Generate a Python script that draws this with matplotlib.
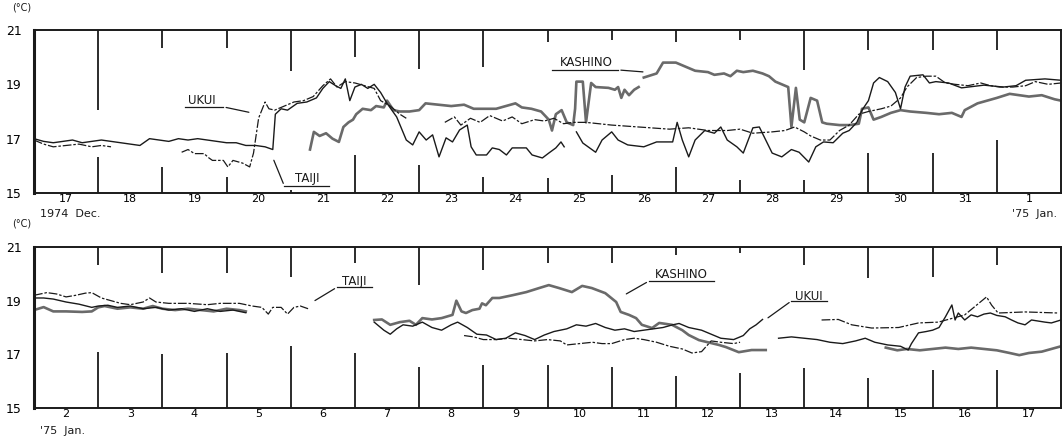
import numpy as np
import matplotlib
matplotlib.use("Agg")
import matplotlib.pyplot as plt

plt.rcParams['font.family'] = ['DejaVu Sans']

# ---- data: (day offset, degC); None = gap in record ----
# top panel: day 0 = 1974 Dec 17 00h
top_ukui = [(0.0, 17.0), (0.15, 16.9), (0.3, 16.85), (0.45, 16.9), (0.6, 16.95), (0.75, 16.85), (0.9, 16.9),
            (1.05, 16.95), (1.2, 16.9), (1.35, 16.85), (1.5, 16.8), (1.65, 16.75), (1.8, 17.0), (1.95, 16.95),
            (2.1, 16.9), (2.25, 17.0), (2.4, 16.95), (2.55, 17.0), (2.7, 16.95), (2.85, 16.9), (3.0, 16.85),
            (3.15, 16.85), (3.3, 16.75), (3.45, 16.75), (3.6, 16.7), (3.72, 16.6), (3.76, 17.9), (3.85, 18.1),
            (3.95, 18.05), (4.1, 18.3), (4.25, 18.35), (4.4, 18.5), (4.5, 18.85), (4.6, 19.1), (4.7, 18.95),
            (4.78, 18.85), (4.85, 19.2), (4.92, 18.4), (5.0, 18.9), (5.1, 19.0), (5.2, 18.85), (5.3, 19.0),
            (5.4, 18.7), (5.5, 18.3), (5.65, 17.8), (5.8, 16.95), (5.9, 16.77), (6.0, 17.25), (6.11, 16.95),
            (6.21, 17.14), (6.31, 16.33), (6.42, 17.03), (6.52, 16.88), (6.63, 17.32), (6.75, 17.5), (6.81, 16.7),
            (6.89, 16.4), (7.05, 16.4), (7.14, 16.66), (7.25, 16.6), (7.36, 16.4), (7.45, 16.66), (7.67, 16.66),
            (7.76, 16.4), (7.92, 16.29), (8.02, 16.47), (8.13, 16.66), (8.21, 16.88), (8.26, 16.7), None,
            (8.45, 17.25), (8.55, 16.84), (8.75, 16.5), (8.85, 16.95), (9.0, 17.25), (9.1, 16.95), (9.25, 16.77),
            (9.5, 16.7), (9.7, 16.88), (9.95, 16.88), (10.02, 17.6), (10.1, 16.95), (10.2, 16.33), (10.3, 16.95),
            (10.45, 17.3), (10.6, 17.2), (10.7, 17.43), (10.8, 16.95), (10.95, 16.7), (11.05, 16.47), (11.2, 17.4),
            (11.3, 17.43), (11.4, 16.95), (11.5, 16.47), (11.65, 16.33), (11.8, 16.6), (11.92, 16.5),
            (12.07, 16.14), (12.18, 16.7), (12.3, 16.88), (12.45, 16.85), (12.6, 17.2), (12.7, 17.3),
            (12.82, 17.6), (12.9, 18.05), (13.0, 18.4), (13.08, 19.05), (13.17, 19.25), (13.3, 19.1),
            (13.42, 18.7), (13.5, 18.1), (13.57, 18.9), (13.65, 19.3), (13.85, 19.35), (13.95, 19.05),
            (14.05, 19.1), (14.25, 19.05), (14.45, 18.87), (14.8, 18.97), (15.1, 18.9), (15.3, 18.95),
            (15.45, 19.15), (15.75, 19.2), (16.0, 19.15)]
top_kashino = [(4.3, 16.6), (4.36, 17.25), (4.45, 17.1), (4.55, 17.2), (4.65, 17.0), (4.75, 16.88), (4.82, 17.43),
               (4.9, 17.6), (4.97, 17.7), (5.02, 17.9), (5.12, 18.1), (5.25, 18.05), (5.33, 18.2), (5.45, 18.15),
               (5.5, 18.4), (5.6, 18.05), (5.7, 18.0), (5.85, 18.0), (6.0, 18.05), (6.1, 18.3), (6.3, 18.25),
               (6.5, 18.2), (6.7, 18.25), (6.85, 18.1), (7.0, 18.1), (7.2, 18.1), (7.35, 18.2), (7.5, 18.3),
               (7.6, 18.15), (7.75, 18.1), (7.9, 18.0), (8.02, 17.7), (8.07, 17.3), (8.13, 17.9), (8.22, 18.05),
               (8.3, 17.6), (8.4, 17.5), (8.43, 18.1), (8.45, 19.1), (8.55, 19.1), (8.6, 17.6), (8.68, 19.05),
               (8.75, 18.9), (8.95, 18.87), (9.05, 18.8), (9.1, 18.9), (9.15, 18.5), (9.2, 18.8), (9.27, 18.6),
               (9.35, 18.8), (9.42, 18.9), None, (9.5, 19.25), (9.7, 19.4), (9.8, 19.8), (10.0, 19.8), (10.2, 19.6),
               (10.3, 19.5), (10.5, 19.45), (10.6, 19.35), (10.75, 19.4), (10.85, 19.3), (10.95, 19.5),
               (11.05, 19.45), (11.2, 19.5), (11.35, 19.4), (11.45, 19.3), (11.55, 19.1), (11.65, 19.0),
               (11.75, 18.9), (11.8, 17.43), (11.87, 18.87), (11.93, 17.7), (12.0, 17.6), (12.1, 18.5),
               (12.2, 18.4), (12.28, 17.6), (12.35, 17.55), (12.55, 17.5), (12.7, 17.5), (12.85, 17.55),
               (12.9, 18.1), (13.0, 18.15), (13.08, 17.7), (13.2, 17.8), (13.35, 17.95), (13.5, 18.05),
               (13.65, 18.0), (13.9, 17.95), (14.1, 17.9), (14.3, 17.95), (14.45, 17.8), (14.5, 18.05),
               (14.7, 18.3), (14.85, 18.4), (15.0, 18.5), (15.2, 18.65), (15.35, 18.6), (15.5, 18.55),
               (15.7, 18.6), (15.9, 18.45), (16.0, 18.4)]
top_taiji = [(0.0, 16.95), (0.15, 16.8), (0.3, 16.7), (0.5, 16.75), (0.7, 16.8), (0.9, 16.7), (1.05, 16.75),
             (1.2, 16.7), None, (2.3, 16.5), (2.4, 16.6), (2.5, 16.45), (2.65, 16.45), (2.72, 16.3), (2.78, 16.2),
             (2.95, 16.2), (3.02, 15.96), (3.1, 16.2), (3.25, 16.1), (3.36, 15.96), (3.42, 16.47), (3.5, 17.76),
             (3.6, 18.35), (3.66, 18.1), (3.75, 18.05), (3.9, 18.2), (4.05, 18.35), (4.2, 18.4), (4.35, 18.55),
             (4.5, 18.95), (4.62, 19.2), (4.72, 18.9), (4.85, 19.1), (5.0, 19.05), (5.15, 18.95), (5.3, 18.85),
             (5.4, 18.4), (5.55, 18.2), (5.7, 17.9), (5.8, 17.75), None, (6.4, 17.6), (6.55, 17.8), (6.65, 17.5),
             (6.8, 17.75), (6.95, 17.6), (7.1, 17.85), (7.3, 17.65), (7.45, 17.8), (7.6, 17.55), (7.8, 17.7),
             (7.95, 17.65), (8.1, 17.75), (8.25, 17.55), (8.4, 17.6), (8.6, 17.6), (8.8, 17.55), (9.0, 17.5),
             (9.3, 17.45), (9.6, 17.4), (9.9, 17.35), (10.2, 17.4), (10.5, 17.3), (10.8, 17.3), (11.0, 17.35),
             (11.2, 17.2), (11.5, 17.25), (11.7, 17.3), (11.85, 17.43), (12.0, 17.25), (12.1, 17.1),
             (12.25, 16.95), (12.4, 16.95), (12.55, 17.3), (12.7, 17.5), (12.85, 17.9), (13.0, 18.0),
             (13.2, 18.1), (13.35, 18.2), (13.5, 18.5), (13.6, 18.9), (13.75, 19.25), (13.9, 19.3),
             (14.05, 19.3), (14.2, 19.05), (14.35, 19.0), (14.55, 18.95), (14.75, 19.05), (14.9, 18.95),
             (15.05, 18.9), (15.25, 18.9), (15.45, 18.95), (15.6, 19.1), (15.8, 19.0), (16.0, 19.05)]

# bottom panel: day 0 = 1975 Jan 2 00h
bot_ukui = [(0.0, 19.1), (0.15, 19.1), (0.3, 19.06), (0.5, 18.95), (0.7, 18.87), (0.9, 18.75), (1.0, 18.8),
            (1.15, 18.83), (1.3, 18.75), (1.5, 18.8), (1.7, 18.7), (1.9, 18.75), (2.1, 18.65), (2.3, 18.7),
            (2.5, 18.6), (2.7, 18.7), (2.9, 18.6), (3.1, 18.65), (3.3, 18.55), None, (5.3, 18.2), (5.45, 17.9),
            (5.55, 17.75), (5.65, 17.95), (5.75, 18.1), (5.9, 18.05), (6.05, 18.2), (6.2, 18.0), (6.35, 17.9),
            (6.5, 18.1), (6.6, 18.2), (6.75, 18.0), (6.9, 17.75), (7.05, 17.72), (7.2, 17.55), (7.35, 17.6),
            (7.5, 17.8), (7.65, 17.7), (7.8, 17.55), (7.95, 17.72), (8.1, 17.85), (8.3, 17.95), (8.45, 18.1),
            (8.6, 18.05), (8.75, 18.15), (8.9, 18.0), (9.05, 17.9), (9.2, 17.95), (9.35, 17.85), (9.5, 17.9),
            (9.65, 17.95), (9.8, 18.0), (9.95, 18.1), (10.05, 18.15), (10.2, 18.0), (10.4, 17.9), (10.55, 17.75),
            (10.7, 17.6), (10.9, 17.55), (11.05, 17.7), (11.15, 17.95), (11.25, 18.1), (11.35, 18.3), None,
            (11.6, 17.6), (11.8, 17.65), (12.0, 17.6), (12.2, 17.55), (12.4, 17.45), (12.6, 17.4), (12.8, 17.5),
            (12.95, 17.6), (13.1, 17.45), (13.3, 17.35), (13.5, 17.3), (13.62, 17.16), (13.67, 17.4),
            (13.78, 17.8), (13.9, 17.85), (14.0, 17.9), (14.1, 18.0), (14.2, 18.4), (14.3, 18.84), (14.35, 18.28),
            (14.4, 18.54), (14.5, 18.28), (14.6, 18.47), (14.7, 18.4), (14.8, 18.5), (14.9, 18.54),
            (15.0, 18.45), (15.13, 18.4), (15.23, 18.28), (15.33, 18.17), (15.44, 18.1), (15.54, 18.28),
            (15.75, 18.2), (15.85, 18.17), (16.0, 18.28)]
bot_kashino = [(0.0, 18.65), (0.15, 18.76), (0.3, 18.6), (0.5, 18.6), (0.75, 18.58), (0.9, 18.6), (1.0, 18.75),
               (1.1, 18.8), (1.3, 18.7), (1.5, 18.75), (1.7, 18.7), (1.85, 18.8), (2.0, 18.7), (2.2, 18.65),
               (2.4, 18.7), (2.6, 18.65), (2.8, 18.6), (3.0, 18.7), (3.2, 18.65), (3.3, 18.6), None,
               (5.3, 18.28), (5.42, 18.3), (5.55, 18.1), (5.7, 18.2), (5.85, 18.25), (5.95, 18.1), (6.05, 18.35),
               (6.2, 18.3), (6.35, 18.35), (6.52, 18.47), (6.58, 19.0), (6.66, 18.6), (6.73, 18.54),
               (6.83, 18.65), (6.94, 18.7), (6.98, 18.9), (7.04, 18.83), (7.14, 19.1), (7.25, 19.1), (7.45, 19.2),
               (7.67, 19.32), (7.87, 19.47), (8.02, 19.58), (8.18, 19.47), (8.38, 19.32), (8.54, 19.55),
               (8.69, 19.47), (8.9, 19.28), (9.07, 18.95), (9.14, 18.58), (9.27, 18.47), (9.38, 18.35),
               (9.47, 18.1), (9.63, 17.98), (9.74, 18.17), (9.94, 18.1), (10.1, 17.9), (10.2, 17.72),
               (10.36, 17.53), (10.67, 17.35), (10.78, 17.27), (10.98, 17.08), (11.18, 17.16), (11.4, 17.16),
               None, (13.27, 17.25), (13.45, 17.15), (13.6, 17.2), (13.8, 17.15), (14.0, 17.2), (14.2, 17.25),
               (14.4, 17.2), (14.6, 17.25), (14.8, 17.2), (15.0, 17.15), (15.2, 17.05), (15.35, 16.97),
               (15.5, 17.05), (15.7, 17.1), (15.85, 17.2), (16.0, 17.3)]
bot_taiji = [(0.0, 19.2), (0.2, 19.3), (0.35, 19.25), (0.5, 19.14), (0.65, 19.2), (0.8, 19.28), (0.9, 19.3),
             (1.05, 19.1), (1.2, 19.0), (1.35, 18.9), (1.5, 18.85), (1.7, 18.95), (1.8, 19.1), (1.9, 18.95),
             (2.1, 18.9), (2.4, 18.9), (2.7, 18.85), (2.9, 18.9), (3.2, 18.9), (3.4, 18.8), (3.55, 18.75),
             (3.65, 18.5), (3.72, 18.75), (3.85, 18.75), (3.95, 18.5), (4.05, 18.75), (4.15, 18.8),
             (4.27, 18.7), None, (6.7, 17.7), (6.85, 17.65), (7.0, 17.55), (7.2, 17.55), (7.4, 17.6),
             (7.6, 17.55), (7.8, 17.5), (8.0, 17.55), (8.2, 17.5), (8.3, 17.35), (8.5, 17.4), (8.7, 17.45),
             (8.85, 17.4), (9.0, 17.4), (9.2, 17.55), (9.35, 17.6), (9.5, 17.55), (9.7, 17.45), (9.9, 17.3),
             (10.1, 17.2), (10.25, 17.05), (10.4, 17.1), (10.55, 17.5), (10.7, 17.45), (10.9, 17.4),
             (11.0, 17.45), None, (12.27, 18.28), (12.53, 18.3), (12.74, 18.1), (13.05, 17.98), (13.47, 18.0),
             (13.78, 18.17), (14.09, 18.2), (14.5, 18.47), (14.84, 19.14), (14.92, 18.83), (15.02, 18.54),
             (15.44, 18.58), (15.96, 18.54)]

top_days = ['17', '18', '19', '20', '21', '22', '23', '24', '25', '26', '27', '28', '29', '30', '31', '1']
bot_days = ['2', '3', '4', '5', '6', '7', '8', '9', '10', '11', '12', '13', '14', '15', '16', '17']
yticks = [15, 17, 19, 21]

# hand-drawn day separators: where the upper stub ends / lower stub starts (degC)
top_stub_hi = [18.06, 20.34, 20.34, 19.5, 20.0, 19.56, 19.64, 20.56, 20.63, 20.56, 20.63, 19.53, 20.26, 20.26, 20.26]
top_stub_lo = [16.33, 15.96, 15.59, 15.1, 16.4, 16.03, 15.59, 15.55, 15.66, 15.96, 15.48, 15.48, 16.47, 16.47, 16.95]
bot_stub_hi = [20.33, 20.03, 20.03, 19.88, 20.4, 19.58, 20.14, 20.4, 20.4, 20.7, 20.78, 20.33, 19.84, 19.88, 20.33]
bot_stub_lo = [17.08, 17.0, 17.04, 17.3, 17.04, 16.52, 16.6, 16.6, 16.52, 16.2, 16.3, 16.48, 16.1, 16.4, 16.4]


def unpack(pairs):
    d = np.array([p[0] if p else np.nan for p in pairs])
    t = np.array([p[1] if p else np.nan for p in pairs])
    return d, t


fig = plt.figure(figsize=(10.62, 4.37), dpi=100)
ax1 = fig.add_axes([34 / 1062, 1 - 193 / 437, 1027 / 1062, 163 / 437])
ax2 = fig.add_axes([34 / 1062, 1 - 408 / 437, 1027 / 1062, 161 / 437])

ink = '#1a1a1a'
panels = [(ax1, top_ukui, top_kashino, top_taiji, top_days, top_stub_hi, top_stub_lo),
          (ax2, bot_ukui, bot_kashino, bot_taiji, bot_days, bot_stub_hi, bot_stub_lo)]
for ax, uk, ka, ta, days, hi, lo in panels:
    d, t = unpack(ka)
    ax.plot(d, t, color='#6a6a6a', lw=1.9, solid_joinstyle='round')
    d, t = unpack(uk)
    ax.plot(d, t, color=ink, lw=1.0)
    d, t = unpack(ta)
    ax.plot(d, t, color=ink, lw=0.9, dashes=(7, 1.5, 2, 1.5))
    marks = np.arange(1, 16)
    ax.vlines(marks, hi, 21, color=ink, lw=1.3)
    ax.vlines(marks, 15, lo, color=ink, lw=1.3)
    ax.set_xlim(0, 16)
    ax.set_ylim(15, 21)
    ax.set_yticks(yticks)
    ax.set_yticklabels([str(v) for v in yticks], fontsize=9)
    ax.set_xticks(np.arange(16) + 0.5)
    ax.set_xticklabels(days, fontsize=8)
    ax.tick_params(axis='x', length=0, pad=1)
    ax.tick_params(axis='y', length=0, pad=9)
    for s in ax.spines.values():
        s.set_linewidth(1.4)
        s.set_color(ink)
    ax.spines['left'].set_linewidth(2.2)


def label(ax, text, tx, ty, ux0, ux1, uy, px, py, end):
    ax.text(tx, ty, text, fontsize=8.5, ha='center', va='center', color=ink)
    ax.plot([ux0, ux1], [uy, uy], color=ink, lw=0.9, clip_on=False)
    sx = ux1 if end == 'right' else ux0
    ax.annotate('', xy=(px, py), xytext=(sx, uy),
                arrowprops=dict(arrowstyle='-', color=ink, lw=0.9))


label(ax1, 'UKUI', 2.62, 18.42, 2.35, 2.95, 18.17, 3.39, 17.95, 'right')
label(ax1, 'TAIJI', 4.25, 15.52, 3.9, 4.6, 15.26, 3.72, 16.3, 'left')
label(ax1, 'KASHINO', 8.6, 19.79, 8.07, 9.1, 19.53, 9.53, 19.45, 'right')
label(ax2, 'TAIJI', 4.99, 19.72, 4.72, 5.27, 19.5, 4.34, 18.95, 'left')
label(ax2, 'KASHINO', 10.09, 19.96, 9.58, 10.6, 19.73, 9.19, 19.2, 'left')
label(ax2, 'UKUI', 12.07, 19.17, 11.8, 12.35, 18.99, 11.4, 18.3, 'left')

fig.text(12 / 1062, 1 - 7 / 437, '(°C)', fontsize=7, va='center', color=ink)
fig.text(12 / 1062, 1 - 224 / 437, '(°C)', fontsize=7, va='center', color=ink)
fig.text(40 / 1062, 1 - 214 / 437, '1974  Dec.', fontsize=8, va='center', color=ink)
fig.text(1012 / 1062, 1 - 214 / 437, "'75  Jan.", fontsize=8, va='center', color=ink)
fig.text(40 / 1062, 1 - 431 / 437, "'75  Jan.", fontsize=8, va='center', color=ink)

fig.savefig('out.png', dpi=100)
